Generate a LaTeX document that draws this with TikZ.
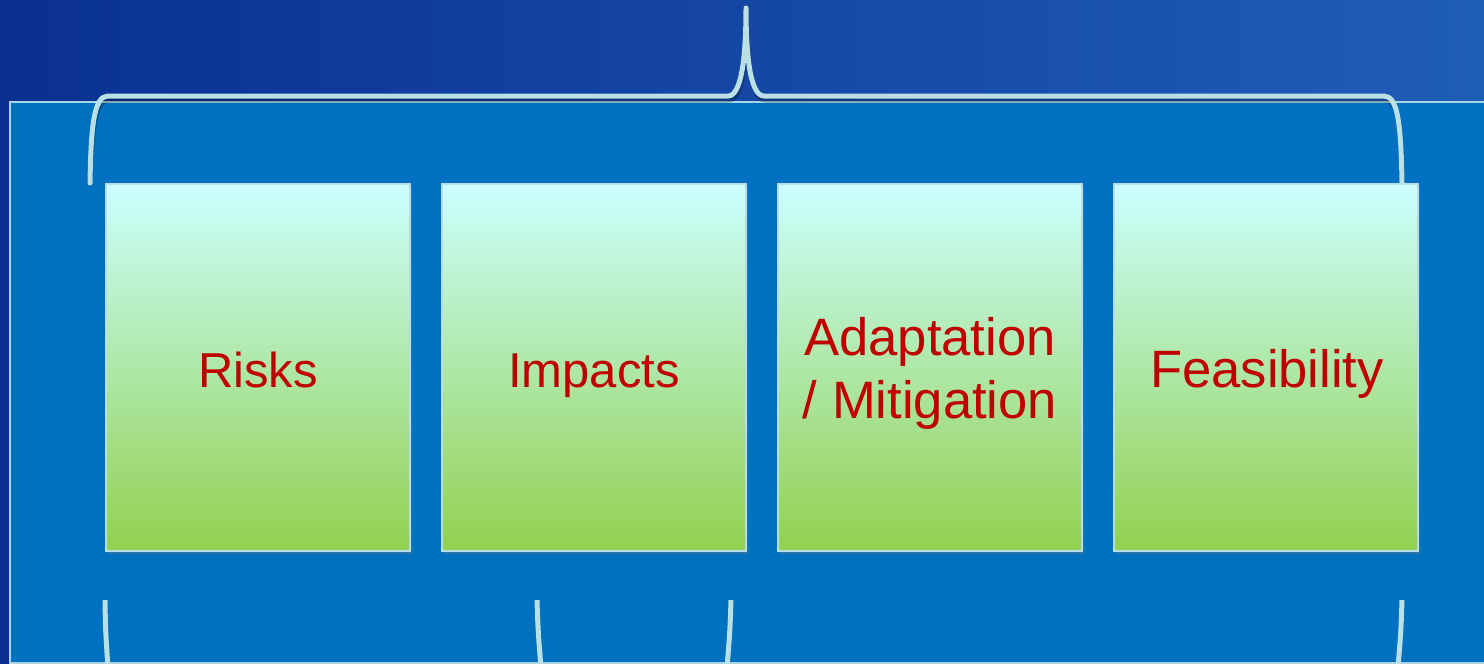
\documentclass[tikz,border=0pt]{standalone}
\usepackage{fontspec}
\setmainfont{Liberation Sans}
\usetikzlibrary{shadows}
\definecolor{bgl}{HTML}{0A308F}
\definecolor{bgr}{HTML}{1F5EB7}
\definecolor{panel}{HTML}{0070C0}
\definecolor{panelline}{HTML}{A9D6E6}
\definecolor{bracec}{HTML}{B9E1E5}
\definecolor{boxtop}{HTML}{CCFFFF}
\definecolor{boxmid}{HTML}{B2EBC6}
\definecolor{boxbot}{HTML}{92D050}
\definecolor{boxline}{HTML}{B8DDE8}
\definecolor{txt}{HTML}{C00000}
\begin{document}
\begin{tikzpicture}[x=0.5pt,y=-0.5pt,
  box/.style={rectangle, draw=boxline, line width=1pt, inner sep=0pt,
    minimum width=152pt, minimum height=183.5pt,
    top color=boxtop, middle color=boxmid, bottom color=boxbot,
    drop shadow={opacity=0.35, shadow xshift=1pt, shadow yshift=-1.5pt}},
  lbl/.style={text=txt, inner sep=0pt, anchor=base},
  lblsmall/.style={lbl, font=\fontsize{24.5}{29}\selectfont},
  lblbig/.style={lbl, font=\fontsize{26.3}{31.5}\selectfont},
  bracestroke/.style={draw=bracec, line width=2.5pt, line cap=round, line join=round},
  braceshade/.style={draw=black, opacity=0.25, line width=2.5pt, line cap=round, line join=round},
  partstroke/.style={draw=bracec, line width=2.5pt, line cap=butt}]
\useasboundingbox (0,0) rectangle (1484,664);
\clip (0,0) rectangle (1484,664);
% background
\shade[left color=bgl, right color=bgr] (0,0) rectangle (1484,664);
% panel
\fill[panel] (10,102) rectangle (1490,663);
\draw[panelline, line width=0.6pt] (1490,102) -- (10,102) -- (10,663) -- (1490,663);
% coordinates of the top brace
\coordinate (bl) at (90,183);
\coordinate (br) at (1402,183);
\coordinate (tip) at (746,8);
% brace shadow
\path[braceshade, shift={(1,4)}]
  (bl) .. controls (91,125) and (94,96) .. (108,96) -- (728,96)
  .. controls (741,96) and (746,60) .. (tip)
  .. controls (746,60) and (751,96) .. (764,96) -- (1384,96)
  .. controls (1398,96) and (1401,125) .. (br);
% brace
\path[bracestroke]
  (bl) .. controls (91,125) and (94,96) .. (108,96) -- (728,96)
  .. controls (741,96) and (746,60) .. (tip)
  .. controls (746,60) and (751,96) .. (764,96) -- (1384,96)
  .. controls (1398,96) and (1401,125) .. (br);
% boxes
\node[box] (risks) at (258,367.5) {};
\node[box] (impacts) at (594,367.5) {};
\node[box] (adapt) at (930,367.5) {};
\node[box] (feas) at (1266,367.5) {};
% labels
\node[lblsmall] (risksT) at (258,387) {Risks};
\node[lblsmall] (impactsT) at (594,387) {Impacts};
\node[lblbig] (adaptT1) at (930,355) {Adaptation};
\node[lblbig] (adaptT2) at (930,418) {/ Mitigation};
\node[lblbig] (feasT) at (1267,387) {Feasibility};
% lower braces (partly visible)
\coordinate (la) at (105,600);
\coordinate (lb) at (537,600);
\coordinate (lc) at (731,600);
\coordinate (ld) at (1402,600);
\path[partstroke] (la) .. controls (105.5,630) .. (108,668);
\path[partstroke] (lb) .. controls (538,630) .. (541,668);
\path[partstroke] (lc) .. controls (730,630) .. (727,668);
\path[partstroke] (ld) .. controls (1401,630) .. (1398,668);
\end{tikzpicture}
\end{document}
